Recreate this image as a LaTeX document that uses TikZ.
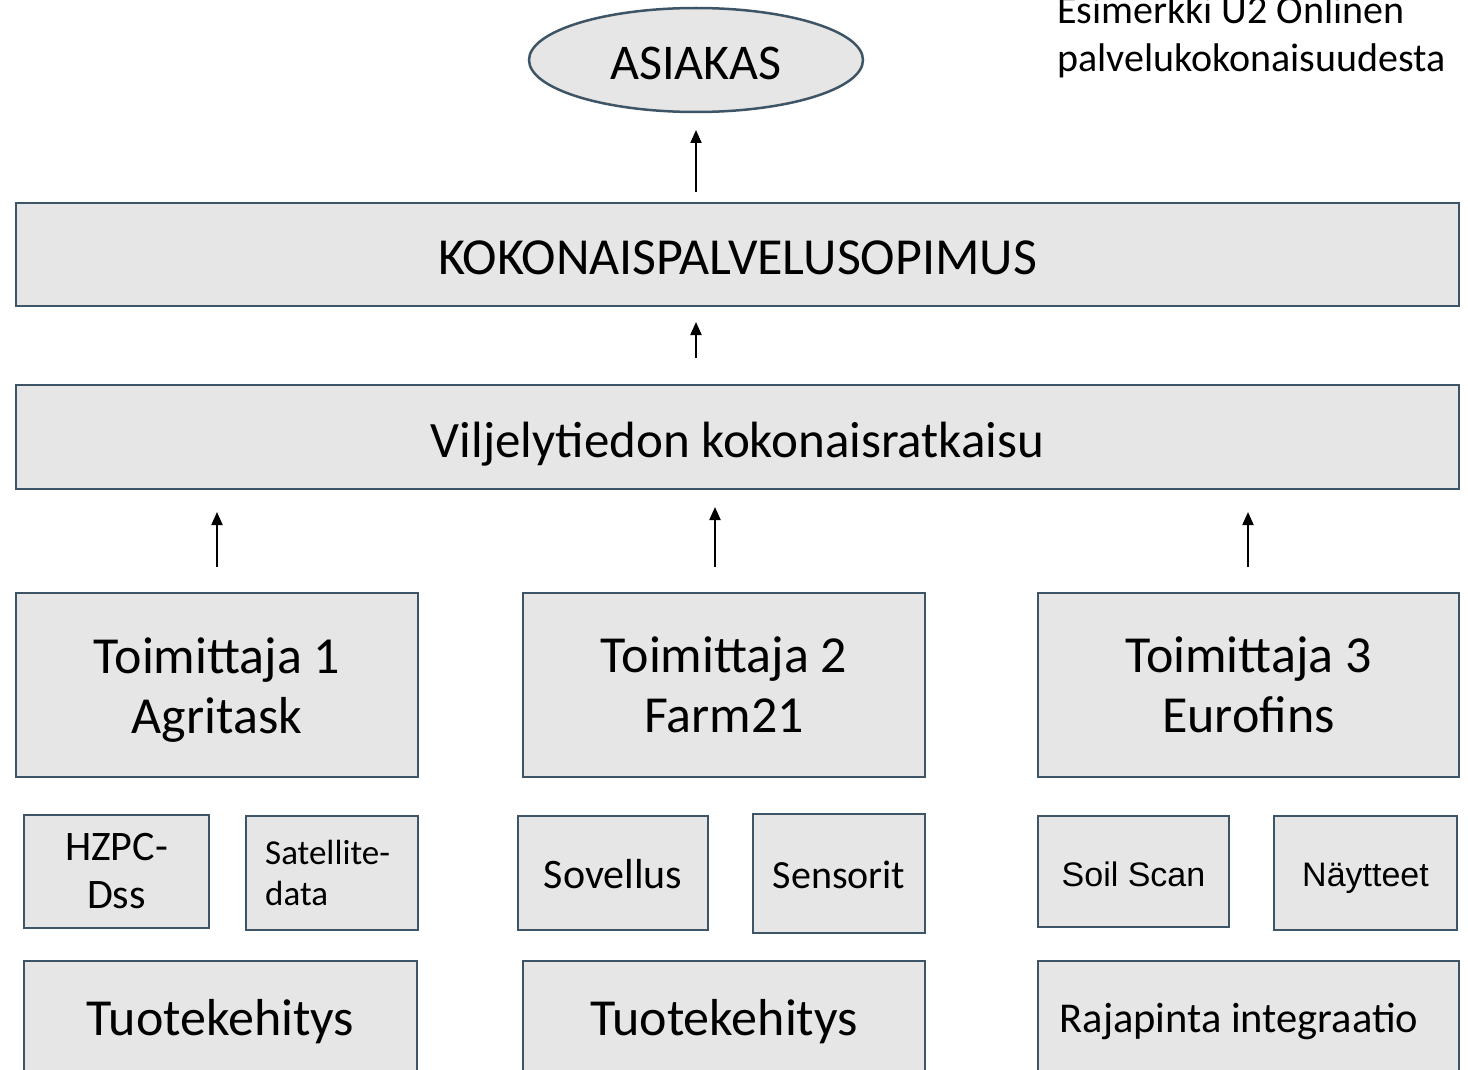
\documentclass[tikz,border=0pt]{standalone}
\usepackage{fontspec}
\setmainfont{Carlito}
\newfontfamily\arialfont{Liberation Sans}
\usetikzlibrary{arrows.meta, positioning, shapes.geometric}
\definecolor{edge}{HTML}{3D5566}
\definecolor{boxfill}{HTML}{E6E6E6}
\tikzset{
  box/.style={draw=edge, fill=boxfill, line width=2.5pt, inner sep=0pt, align=center},
  big/.style={font=\fontsize{52}{60}\selectfont},
  oneline/.style={text height=44pt, text depth=4pt},
  small/.style={text height=32pt, text depth=2pt},
  up/.style={-{Triangle[length=13pt,width=11pt]}, line width=2pt}
}
\begin{document}
\begin{tikzpicture}[x=1pt, y=-1pt]
  \useasboundingbox (0,0) rectangle (1468,1070);
  % Top
  \node[box, ellipse, big, oneline, minimum width=334, minimum height=104, font=\fontsize{50}{60}\selectfont] (asiakas) at (696,60) {ASIAKAS};
  \node[font=\fontsize{40}{48}\selectfont, align=left, anchor=north west, inner sep=0pt] (note) at (1057,-4) {Esimerkki U2 Onlinen\\palvelukokonaisuudesta};
  \node[box, big, oneline, minimum width=1443, minimum height=103] (sopimus) at (737.5,254.5) {KOKONAISPALVELUSOPIMUS};
  \node[box, big, oneline, minimum width=1443, minimum height=104, font=\fontsize{51}{60}\selectfont] (ratkaisu) at (737.5,437) {Viljelytiedon kokonaisratkaisu};
  % Arrows between layers
  \coordinate (a1) at (696,192);
  \coordinate (b1) at (696,130);
  \coordinate (a2) at (696,358);
  \coordinate (b2) at (696,322);
  \draw[up] (a1) -- (b1);
  \draw[up] (a2) -- (b2);
  % Suppliers
  \node[box, minimum width=402, minimum height=184] (t1) at (217,685) {};
  \node[box, minimum width=402, minimum height=184] (t2) at (724,685) {};
  \node[box, minimum width=421, minimum height=184] (t3) at (1248.5,685) {};
  \node[big, align=center, inner sep=0pt] (t1txt) at ([yshift=-5pt]t1.center) {Toimittaja 1\\Agritask};
  \node[big, align=center, inner sep=0pt] (t2txt) at (t2.center) {Toimittaja 2\\Farm21};
  \node[big, align=center, inner sep=0pt] (t3txt) at (t3.center) {Toimittaja 3\\Eurofins};
  \coordinate (c1) at (217,567);
  \coordinate (d1) at (217,512);
  \coordinate (c2) at (715,567);
  \coordinate (d2) at (715,507);
  \coordinate (c3) at (1248,567);
  \coordinate (d3) at (1248,512);
  \foreach \i in {1,2,3}
    \draw[up] (c\i) -- (d\i);
  % Small boxes
  \node[box, minimum width=185, minimum height=113, font=\fontsize{42}{48}\selectfont] (hzpc) at (116.5,871.5) {HZPC-\\Dss};
  \node[box, minimum width=172, minimum height=114] (sat) at (332,873) {};
  \node[font=\fontsize{35}{41}\selectfont, align=left, anchor=west, inner sep=0pt] (sattxt) at (265,873) {Satellite-\\data};
  \node[box, small, minimum width=190, minimum height=114, font=\fontsize{42}{48}\selectfont] (sovellus) at (613,873) {Sovellus};
  \node[box, small, minimum width=172, minimum height=119, font=\fontsize{40}{48}\selectfont] (sensorit) at (839,873.5) {Sensorit};
  \node[box, minimum width=191, minimum height=111, text height=32pt, text depth=3pt, font=\arialfont\fontsize{34}{40}\selectfont] (soil) at (1133.5,871.5) {Soil Scan};
  \node[box, minimum width=183, minimum height=114, text height=29pt, text depth=3pt, font=\arialfont\fontsize{34}{40}\selectfont] (naytteet) at (1365.5,873) {Näytteet};
  % Bottom boxes
  \node[box, minimum width=393, minimum height=130] (kehitys1) at (220.5,1026) {};
  \node[box, minimum width=402, minimum height=130] (kehitys2) at (724,1026) {};
  \node[box, minimum width=421, minimum height=130] (rajapinta) at (1248.5,1026) {};
  \node[big, anchor=base, inner sep=0pt] (k1txt) at (220.5,1035) {Tuotekehitys};
  \node[big, anchor=base, inner sep=0pt] (k2txt) at (724,1035) {Tuotekehitys};
  \node[font=\fontsize{42.5}{48}\selectfont, anchor=base, inner sep=0pt] (rtxt) at (1239,1032) {Rajapinta integraatio};
\end{tikzpicture}
\end{document}
